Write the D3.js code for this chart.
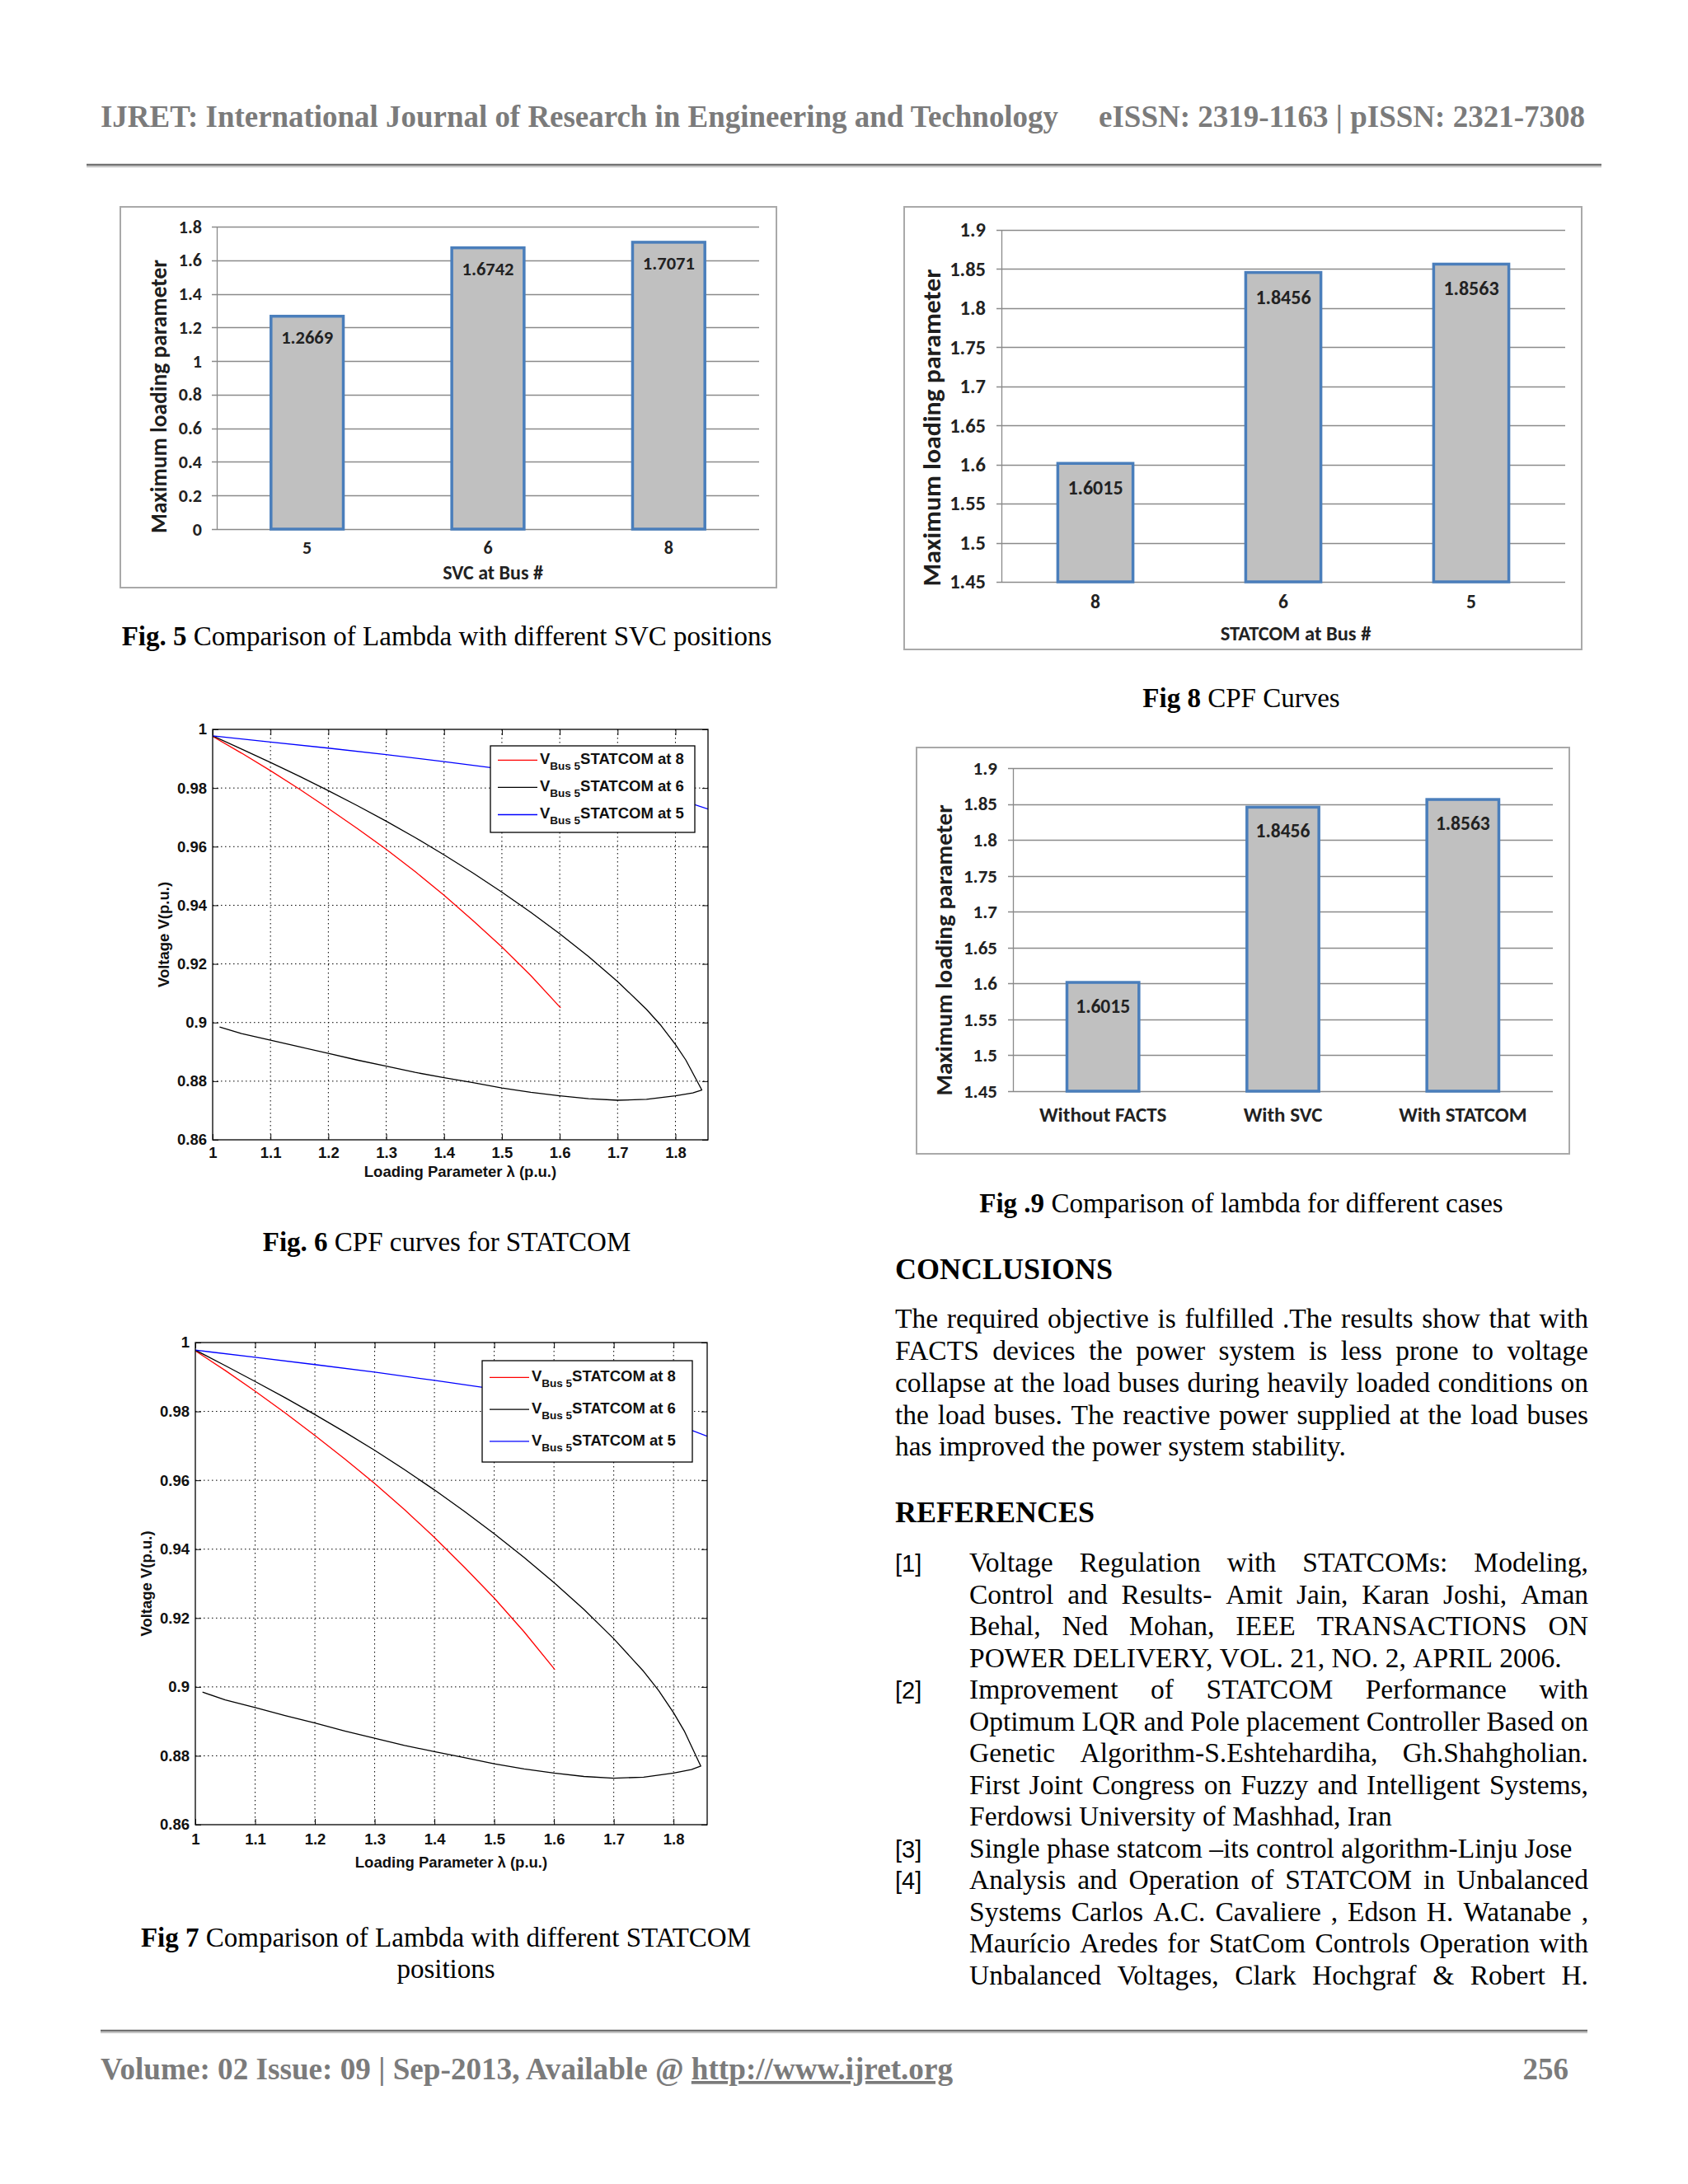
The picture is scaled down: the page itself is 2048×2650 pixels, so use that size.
<!DOCTYPE html>
<html>
<head>
<meta charset="utf-8">
<script src="https://cdn.jsdelivr.net/npm/d3@7"></script>
<style>
  html, body { margin: 0; padding: 0; background: #fff; }
  svg { display: block; }
  text { white-space: pre; }
</style>
</head>
<body>
<svg id="page" width="2048" height="2650"></svg>
<script>
// ===================== DATA =====================
const headerLeft = "IJRET: International Journal of Research in Engineering and Technology";
const headerRight = "eISSN: 2319-1163 | pISSN: 2321-7308";
const footerLeft = "Volume: 02 Issue: 09 | Sep-2013, Available @ ";
const footerLink = "http://www.ijret.org";
const pageNumber = "256";

// Fig. 5 — SVC positions
const fig5Categories = ["5", "6", "8"];
const fig5Values = [1.2669, 1.6742, 1.7071];
const fig5Ticks = [0, 0.2, 0.4, 0.6, 0.8, 1, 1.2, 1.4, 1.6, 1.8];

// Fig. 8 — STATCOM positions
const fig8Categories = ["8", "6", "5"];
const fig8Values = [1.6015, 1.8456, 1.8563];
const lambdaTicks = [1.45, 1.5, 1.55, 1.6, 1.65, 1.7, 1.75, 1.8, 1.85, 1.9];

// Fig. 9 — cases
const fig9Categories = ["Without FACTS", "With SVC", "With STATCOM"];
const fig9Values = [1.6015, 1.8456, 1.8563];

// Fig. 6 / Fig. 7 — CPF curves
const cpfXTicks = [1, 1.1, 1.2, 1.3, 1.4, 1.5, 1.6, 1.7, 1.8];
const cpfYTicks = [0.86, 0.88, 0.9, 0.92, 0.94, 0.96, 0.98, 1];
const cpfSeriesNames = ["STATCOM at 8", "STATCOM at 6", "STATCOM at 5"];

const redLambda  = [1.0, 1.05, 1.1, 1.15, 1.2, 1.25, 1.3, 1.35, 1.4, 1.45, 1.5, 1.55, 1.6015];
const redVoltage = [0.9976, 0.9919, 0.9859, 0.9796, 0.9730, 0.9662, 0.9591, 0.9515, 0.9434, 0.9348, 0.9258, 0.9160, 0.9050];

const blackLambda  = [1.0, 1.05, 1.1, 1.15, 1.2, 1.25, 1.3, 1.35, 1.4, 1.45, 1.5, 1.55, 1.6, 1.65, 1.7, 1.75, 1.775, 1.8, 1.818, 1.8456,
                      1.83, 1.8, 1.75, 1.7, 1.65, 1.6, 1.55, 1.5, 1.45, 1.4, 1.35, 1.3, 1.25, 1.2, 1.15, 1.1, 1.05, 1.012];
const blackVoltage = [0.9978, 0.9933, 0.9887, 0.9840, 0.9791, 0.9740, 0.9687, 0.9631, 0.9572, 0.9510, 0.9445, 0.9376, 0.9303, 0.9225, 0.9140, 0.9045, 0.8990, 0.8925, 0.8872, 0.8770,
                      0.8760, 0.8750, 0.8738, 0.8735, 0.8740, 0.8750, 0.8762, 0.8777, 0.8795, 0.8812, 0.8830, 0.8851, 0.8872, 0.8895, 0.8917, 0.8940, 0.8962, 0.8985];

const blueLambda  = [1.0, 1.1, 1.2, 1.3, 1.4, 1.5, 1.6, 1.7, 1.8, 1.8563];
const blueVoltage = [0.9978, 0.9957, 0.9936, 0.9914, 0.9890, 0.9865, 0.9838, 0.9806, 0.9765, 0.9728];

// Right column text
const conclusionHeading = "CONCLUSIONS";
const conclusionLines = [
  "The required objective is fulfilled .The results show that with",
  "FACTS devices the power system is less prone to voltage",
  "collapse at the load buses during heavily loaded conditions on",
  "the load buses. The reactive power supplied at the load buses",
  "has improved the power system stability."
];
const referencesHeading = "REFERENCES";
const referenceNumbers = ["[1]", "[2]", "[3]", "[4]"];
const referenceLines = [
  ["Voltage Regulation with STATCOMs: Modeling,",
   "Control and Results- Amit Jain, Karan Joshi, Aman",
   "Behal, Ned Mohan, IEEE TRANSACTIONS ON",
   "POWER DELIVERY, VOL. 21, NO. 2, APRIL 2006."],
  ["Improvement of STATCOM Performance with",
   "Optimum LQR and Pole placement Controller Based on",
   "Genetic Algorithm-S.Eshtehardiha, Gh.Shahgholian.",
   "First Joint Congress on Fuzzy and Intelligent Systems,",
   "Ferdowsi University of Mashhad, Iran"],
  ["Single phase statcom \u2013its control algorithm-Linju Jose"],
  ["Analysis and Operation of STATCOM in Unbalanced",
   "Systems Carlos A.C. Cavaliere , Edson H. Watanabe ,",
   "Maur\u00edcio Aredes for StatCom Controls Operation with",
   "Unbalanced Voltages, Clark Hochgraf & Robert H."]
];
const referenceContinues = [false, false, false, true];

// ===================== FONTS / HELPERS =====================
const SERIF = "'Liberation Serif','Times New Roman',serif";
const CAL = "Carlito,'Liberation Sans Narrow','Arial Narrow',Roboto,sans-serif";
const ARIAL = "'Liberation Sans',Arial,Helvetica,sans-serif";
const OFFICE_Y = "Carlito,'Liberation Sans Narrow','Open Sans',sans-serif";

const svg = d3.select("#page");
svg.append("rect").attr("width", 2048).attr("height", 2650).attr("fill", "#ffffff");

const measurer = svg.append("text").attr("x", -1000).attr("y", -1000).attr("visibility", "hidden");
function measure(str, family, size, weight) {
  measurer.attr("font-family", family).attr("font-size", size).attr("font-weight", weight || "normal").text(str);
  return measurer.node().getComputedTextLength();
}
const fmt = d => String(+d.toFixed(2));

// ===================== HEADER / FOOTER =====================
svg.append("text").attr("x", 122).attr("y", 154)
  .attr("font-family", SERIF).attr("font-weight", "bold").attr("font-size", 37)
  .attr("fill", "#7b7b7b").attr("textLength", 1162).attr("lengthAdjust", "spacingAndGlyphs")
  .text(headerLeft);
svg.append("text").attr("x", 1333).attr("y", 154)
  .attr("font-family", SERIF).attr("font-weight", "bold").attr("font-size", 37)
  .attr("fill", "#7b7b7b").attr("textLength", 590).attr("lengthAdjust", "spacingAndGlyphs")
  .text(headerRight);
svg.append("line").attr("x1", 105).attr("x2", 1943).attr("y1", 200).attr("y2", 200)
  .attr("stroke", "#6f6f6f").attr("stroke-width", 2.5);
svg.append("line").attr("x1", 105).attr("x2", 1943).attr("y1", 202.5).attr("y2", 202.5)
  .attr("stroke", "#b5b5b5").attr("stroke-width", 1.2);

svg.append("line").attr("x1", 122).attr("x2", 1926).attr("y1", 2464).attr("y2", 2464)
  .attr("stroke", "#6f6f6f").attr("stroke-width", 2.5);
svg.append("line").attr("x1", 122).attr("x2", 1926).attr("y1", 2466.5).attr("y2", 2466.5)
  .attr("stroke", "#b5b5b5").attr("stroke-width", 1.2);
const foot = svg.append("text").attr("x", 122).attr("y", 2523)
  .attr("font-family", SERIF).attr("font-weight", "bold").attr("font-size", 37)
  .attr("fill", "#7b7b7b").attr("textLength", 1034).attr("lengthAdjust", "spacingAndGlyphs");
foot.append("tspan").text(footerLeft);
foot.append("tspan").attr("text-decoration", "underline").text(footerLink);
svg.append("text").attr("x", 1903).attr("y", 2523).attr("text-anchor", "end")
  .attr("font-family", SERIF).attr("font-weight", "bold").attr("font-size", 37)
  .attr("fill", "#7b7b7b").text(pageNumber);

// ===================== BAR CHARTS =====================
function drawBarChart(categories, values, ticks, L) {
  const g = svg.append("g");
  g.append("rect").attr("x", L.frame[0]).attr("y", L.frame[1])
    .attr("width", L.frame[2] - L.frame[0]).attr("height", L.frame[3] - L.frame[1])
    .attr("fill", "#ffffff").attr("stroke", "#a9a9a9").attr("stroke-width", 2);

  const y = d3.scaleLinear().domain([ticks[0], ticks[ticks.length - 1]]).range([L.bottom, L.top]);
  const x = d3.scaleBand().domain(categories).range([L.left, L.right]).paddingInner(0.6).paddingOuter(0.3);

  // gridlines (with small outward tick)
  g.append("g").selectAll("line").data(ticks).join("line")
    .attr("x1", L.left - 6).attr("x2", L.right)
    .attr("y1", d => Math.round(y(d)) + 0.5).attr("y2", d => Math.round(y(d)) + 0.5)
    .attr("stroke", "#8a8a8a").attr("stroke-width", 1.3);

  const ya = g.append("g").attr("transform", `translate(${L.left},0)`)
    .call(d3.axisLeft(y).tickValues(ticks).tickSizeInner(0).tickSizeOuter(0).tickPadding(L.tickPad).tickFormat(fmt));
  ya.select(".domain").attr("stroke", "#8a8a8a").attr("stroke-width", 1.3);
  ya.selectAll("text").attr("font-family", CAL).attr("font-weight", "bold")
    .attr("font-size", L.tickFont).attr("fill", "#222");

  // bars
  g.append("g").selectAll("rect").data(values).join("rect")
    .attr("x", (d, i) => x(categories[i])).attr("width", x.bandwidth())
    .attr("y", d => y(d)).attr("height", d => y(ticks[0]) - y(d))
    .attr("fill", "#c0c0c0").attr("stroke", "#4a7ebb").attr("stroke-width", 3.5);

  // value labels
  g.append("g").selectAll("text").data(values).join("text")
    .attr("x", (d, i) => x(categories[i]) + x.bandwidth() / 2)
    .attr("y", d => y(d) + L.valueOffset)
    .attr("text-anchor", "middle").attr("font-family", CAL).attr("font-weight", "bold")
    .attr("font-size", L.valueFont).attr("fill", "#222").text(d => d.toFixed(4));

  // category axis
  const xa = g.append("g").attr("transform", `translate(0,${L.bottom})`)
    .call(d3.axisBottom(x).tickSize(0).tickPadding(L.catPad));
  xa.select(".domain").remove();
  xa.selectAll("text").attr("font-family", CAL).attr("font-weight", "bold")
    .attr("font-size", L.catFont).attr("fill", "#222");

  if (L.xTitle) {
    g.append("text").attr("x", L.xTitleX).attr("y", L.xTitleY).attr("text-anchor", "middle")
      .attr("font-family", CAL).attr("font-weight", "bold").attr("font-size", L.xTitleFont)
      .attr("fill", "#222").text(L.xTitle);
  }
  g.append("text").attr("transform", `translate(${L.yTitleX},${L.yTitleY}) rotate(-90)`)
    .attr("text-anchor", "middle").attr("dy", "0.35em")
    .attr("font-family", OFFICE_Y).attr("font-weight", "bold").attr("font-size", L.yTitleFont)
    .attr("fill", "#1e1e1e").attr("textLength", L.yTitleLen).attr("lengthAdjust", "spacingAndGlyphs")
    .text("Maximum loading parameter");
}

drawBarChart(fig5Categories, fig5Values, fig5Ticks, {
  frame: [146, 251, 942, 713], left: 263, right: 921, top: 275, bottom: 642,
  tickPad: 18, tickFont: 22, valueOffset: 33, valueFont: 22.5, catPad: 14, catFont: 22,
  xTitle: "SVC at Bus #", xTitleX: 598, xTitleY: 703, xTitleFont: 24,
  yTitleX: 192, yTitleY: 481, yTitleFont: 28, yTitleLen: 332
});
drawBarChart(fig8Categories, fig8Values, lambdaTicks, {
  frame: [1097, 251, 1919, 788], left: 1215, right: 1899, top: 279, bottom: 706,
  tickPad: 19, tickFont: 24.5, valueOffset: 38, valueFont: 24, catPad: 15, catFont: 23.5,
  xTitle: "STATCOM at Bus #", xTitleX: 1572, xTitleY: 777, xTitleFont: 24.5,
  yTitleX: 1130, yTitleY: 519, yTitleFont: 31, yTitleLen: 385
});
drawBarChart(fig9Categories, fig9Values, lambdaTicks, {
  frame: [1112, 907, 1904, 1400], left: 1229, right: 1884, top: 932, bottom: 1324,
  tickPad: 19, tickFont: 23, valueOffset: 37, valueFont: 23.5, catPad: 19, catFont: 25,
  xTitle: null,
  yTitleX: 1145, yTitleY: 1153, yTitleFont: 29, yTitleLen: 353
});

// ===================== CPF LINE CHARTS =====================
let clipCount = 0;
function drawCPF(L) {
  const g = svg.append("g");
  const x = d3.scaleLinear().domain([1, 1.8563]).range([L.left, L.right]);
  const y = d3.scaleLinear().domain([0.86, 1]).range([L.bottom, L.top]);

  g.append("rect").attr("x", L.left).attr("y", L.top).attr("width", L.right - L.left)
    .attr("height", L.bottom - L.top).attr("fill", "#ffffff");

  // dotted grid
  const grid = g.append("g").attr("stroke", "#000").attr("stroke-width", 1).attr("stroke-dasharray", "1.5,3.5");
  grid.selectAll("line.gx").data(cpfXTicks.filter(d => d > 1)).join("line")
    .attr("x1", d => x(d)).attr("x2", d => x(d)).attr("y1", L.top).attr("y2", L.bottom);
  grid.selectAll("line.gy").data(cpfYTicks.filter(d => d > 0.86 && d < 1)).join("line")
    .attr("x1", L.left).attr("x2", L.right).attr("y1", d => y(d)).attr("y2", d => y(d));

  // curves
  const id = "cpfclip" + (clipCount++);
  g.append("clipPath").attr("id", id).append("rect")
    .attr("x", L.left).attr("y", L.top).attr("width", L.right - L.left).attr("height", L.bottom - L.top);
  const line = d3.line().x(d => x(d[0])).y(d => y(d[1]));
  const series = [
    { lam: redLambda, v: redVoltage, color: "#ff0000" },
    { lam: blackLambda, v: blackVoltage, color: "#000000" },
    { lam: blueLambda, v: blueVoltage, color: "#0000ff" }
  ];
  const curves = g.append("g").attr("clip-path", `url(#${id})`);
  series.forEach(s => {
    curves.append("path").datum(s.lam.map((l, i) => [l, s.v[i]]))
      .attr("d", line).attr("fill", "none").attr("stroke", s.color).attr("stroke-width", 1.3)
      .attr("stroke-linejoin", "round");
  });

  // axes with inward ticks
  const styleAxis = sel => {
    sel.select(".domain").remove();
    sel.selectAll(".tick line").attr("stroke", "#000").attr("stroke-width", 1);
    sel.selectAll("text").attr("font-family", ARIAL).attr("font-weight", "bold")
      .attr("font-size", L.tickFont).attr("fill", "#111");
  };
  g.append("g").attr("transform", `translate(0,${L.bottom})`)
    .call(d3.axisBottom(x).tickValues(cpfXTicks).tickSizeInner(-7).tickSizeOuter(0).tickPadding(L.xPad).tickFormat(fmt))
    .call(styleAxis);
  g.append("g").attr("transform", `translate(0,${L.top})`)
    .call(d3.axisTop(x).tickValues(cpfXTicks).tickSizeInner(-7).tickSizeOuter(0).tickFormat(""))
    .call(styleAxis);
  g.append("g").attr("transform", `translate(${L.left},0)`)
    .call(d3.axisLeft(y).tickValues(cpfYTicks).tickSizeInner(-7).tickSizeOuter(0).tickPadding(7).tickFormat(fmt))
    .call(styleAxis);
  g.append("g").attr("transform", `translate(${L.right},0)`)
    .call(d3.axisRight(y).tickValues(cpfYTicks).tickSizeInner(-7).tickSizeOuter(0).tickFormat(""))
    .call(styleAxis);

  // box
  g.append("rect").attr("x", L.left).attr("y", L.top).attr("width", L.right - L.left)
    .attr("height", L.bottom - L.top).attr("fill", "none").attr("stroke", "#000").attr("stroke-width", 1.3);

  // axis titles
  g.append("text").attr("x", (L.left + L.right) / 2).attr("y", L.xTitleY).attr("text-anchor", "middle")
    .attr("font-family", ARIAL).attr("font-weight", "bold").attr("font-size", L.tickFont).attr("fill", "#111")
    .text("Loading Parameter \u03bb (p.u.)");
  g.append("text").attr("transform", `translate(${L.yTitleX},${(L.top + L.bottom) / 2}) rotate(-90)`)
    .attr("text-anchor", "middle").attr("dy", "0.35em")
    .attr("font-family", ARIAL).attr("font-weight", "bold").attr("font-size", L.tickFont).attr("fill", "#111")
    .text("Voltage V(p.u.)");

  // legend
  const [lx0, ly0, lx1, ly1] = L.legend;
  const lg = g.append("g");
  lg.append("rect").attr("x", lx0).attr("y", ly0).attr("width", lx1 - lx0).attr("height", ly1 - ly0)
    .attr("fill", "#fff").attr("stroke", "#000").attr("stroke-width", 1.3);
  series.forEach((s, i) => {
    const ry = ly0 + (ly1 - ly0) * (0.165 + 0.315 * i);
    lg.append("line").attr("x1", lx0 + 9).attr("x2", lx0 + 57).attr("y1", ry).attr("y2", ry)
      .attr("stroke", s.color).attr("stroke-width", 1.3);
    const t = lg.append("text").attr("x", lx0 + 60).attr("y", ry + 5)
      .attr("font-family", ARIAL).attr("font-weight", "bold").attr("font-size", L.tickFont).attr("fill", "#111");
    t.append("tspan").text("V");
    t.append("tspan").attr("dy", 7).attr("font-size", 13.5).text("Bus 5");
    t.append("tspan").attr("dy", -7).text(cpfSeriesNames[i]);
  });
}

drawCPF({ left: 258, right: 859, top: 885, bottom: 1383, tickFont: 18.5, xPad: 9,
  xTitleY: 1428, yTitleX: 199, legend: [595, 905, 843, 1010] });
drawCPF({ left: 237, right: 858, top: 1629, bottom: 2214, tickFont: 18.5, xPad: 11,
  xTitleY: 2266, yTitleX: 178, legend: [585, 1651, 840, 1774] });

// ===================== CAPTIONS =====================
function caption(cx, y, bold, rest) {
  const t = svg.append("text").attr("x", cx).attr("y", y).attr("text-anchor", "middle")
    .attr("font-family", SERIF).attr("font-size", 33).attr("fill", "#000");
  if (bold) t.append("tspan").attr("font-weight", "bold").text(bold);
  t.append("tspan").text(rest);
}
caption(542, 783, "Fig. 5", " Comparison of Lambda with different SVC positions");
caption(1506, 858, "Fig 8", " CPF Curves");
caption(542, 1518, "Fig. 6", " CPF curves for STATCOM");
caption(1506, 1471, "Fig .9", " Comparison of lambda for different cases");
caption(541, 2362, "Fig 7", " Comparison of Lambda with different STATCOM");
caption(541, 2400, null, "positions");

// ===================== RIGHT COLUMN TEXT =====================
const BODY = 33.5;
function textLine(str, x0, x1, y, justify) {
  const words = str.split(" ");
  const widths = words.map(w => measure(w, SERIF, BODY));
  const sum = d3.sum(widths);
  const space = measure("a b", SERIF, BODY) - measure("ab", SERIF, BODY);
  const gap = (justify && words.length > 1) ? (x1 - x0 - sum) / (words.length - 1) : space;
  const t = svg.append("text").attr("y", y).attr("font-family", SERIF).attr("font-size", BODY).attr("fill", "#000");
  let cx = x0;
  words.forEach((w, i) => {
    t.append("tspan").attr("x", cx).text(w + (i < words.length - 1 ? " " : ""));
    cx += widths[i] + gap;
  });
}

svg.append("text").attr("x", 1086).attr("y", 1552).attr("font-family", SERIF).attr("font-weight", "bold")
  .attr("font-size", 36).attr("fill", "#000").text(conclusionHeading);
conclusionLines.forEach((l, i) => {
  textLine(l, 1086, 1927, 1611 + i * 38.85, i < conclusionLines.length - 1);
});

svg.append("text").attr("x", 1086).attr("y", 1847).attr("font-family", SERIF).attr("font-weight", "bold")
  .attr("font-size", 36).attr("fill", "#000").text(referencesHeading);
let row = 0;
referenceLines.forEach((lines, r) => {
  svg.append("text").attr("x", 1086).attr("y", 1907 + row * 38.54)
    .attr("font-family", ARIAL).attr("font-size", 29).attr("fill", "#000").text(referenceNumbers[r]);
  lines.forEach((l, i) => {
    const last = i === lines.length - 1;
    textLine(l, 1176, 1927, 1907 + row * 38.54, !last || referenceContinues[r]);
    row++;
  });
});
</script>
</body>
</html>
